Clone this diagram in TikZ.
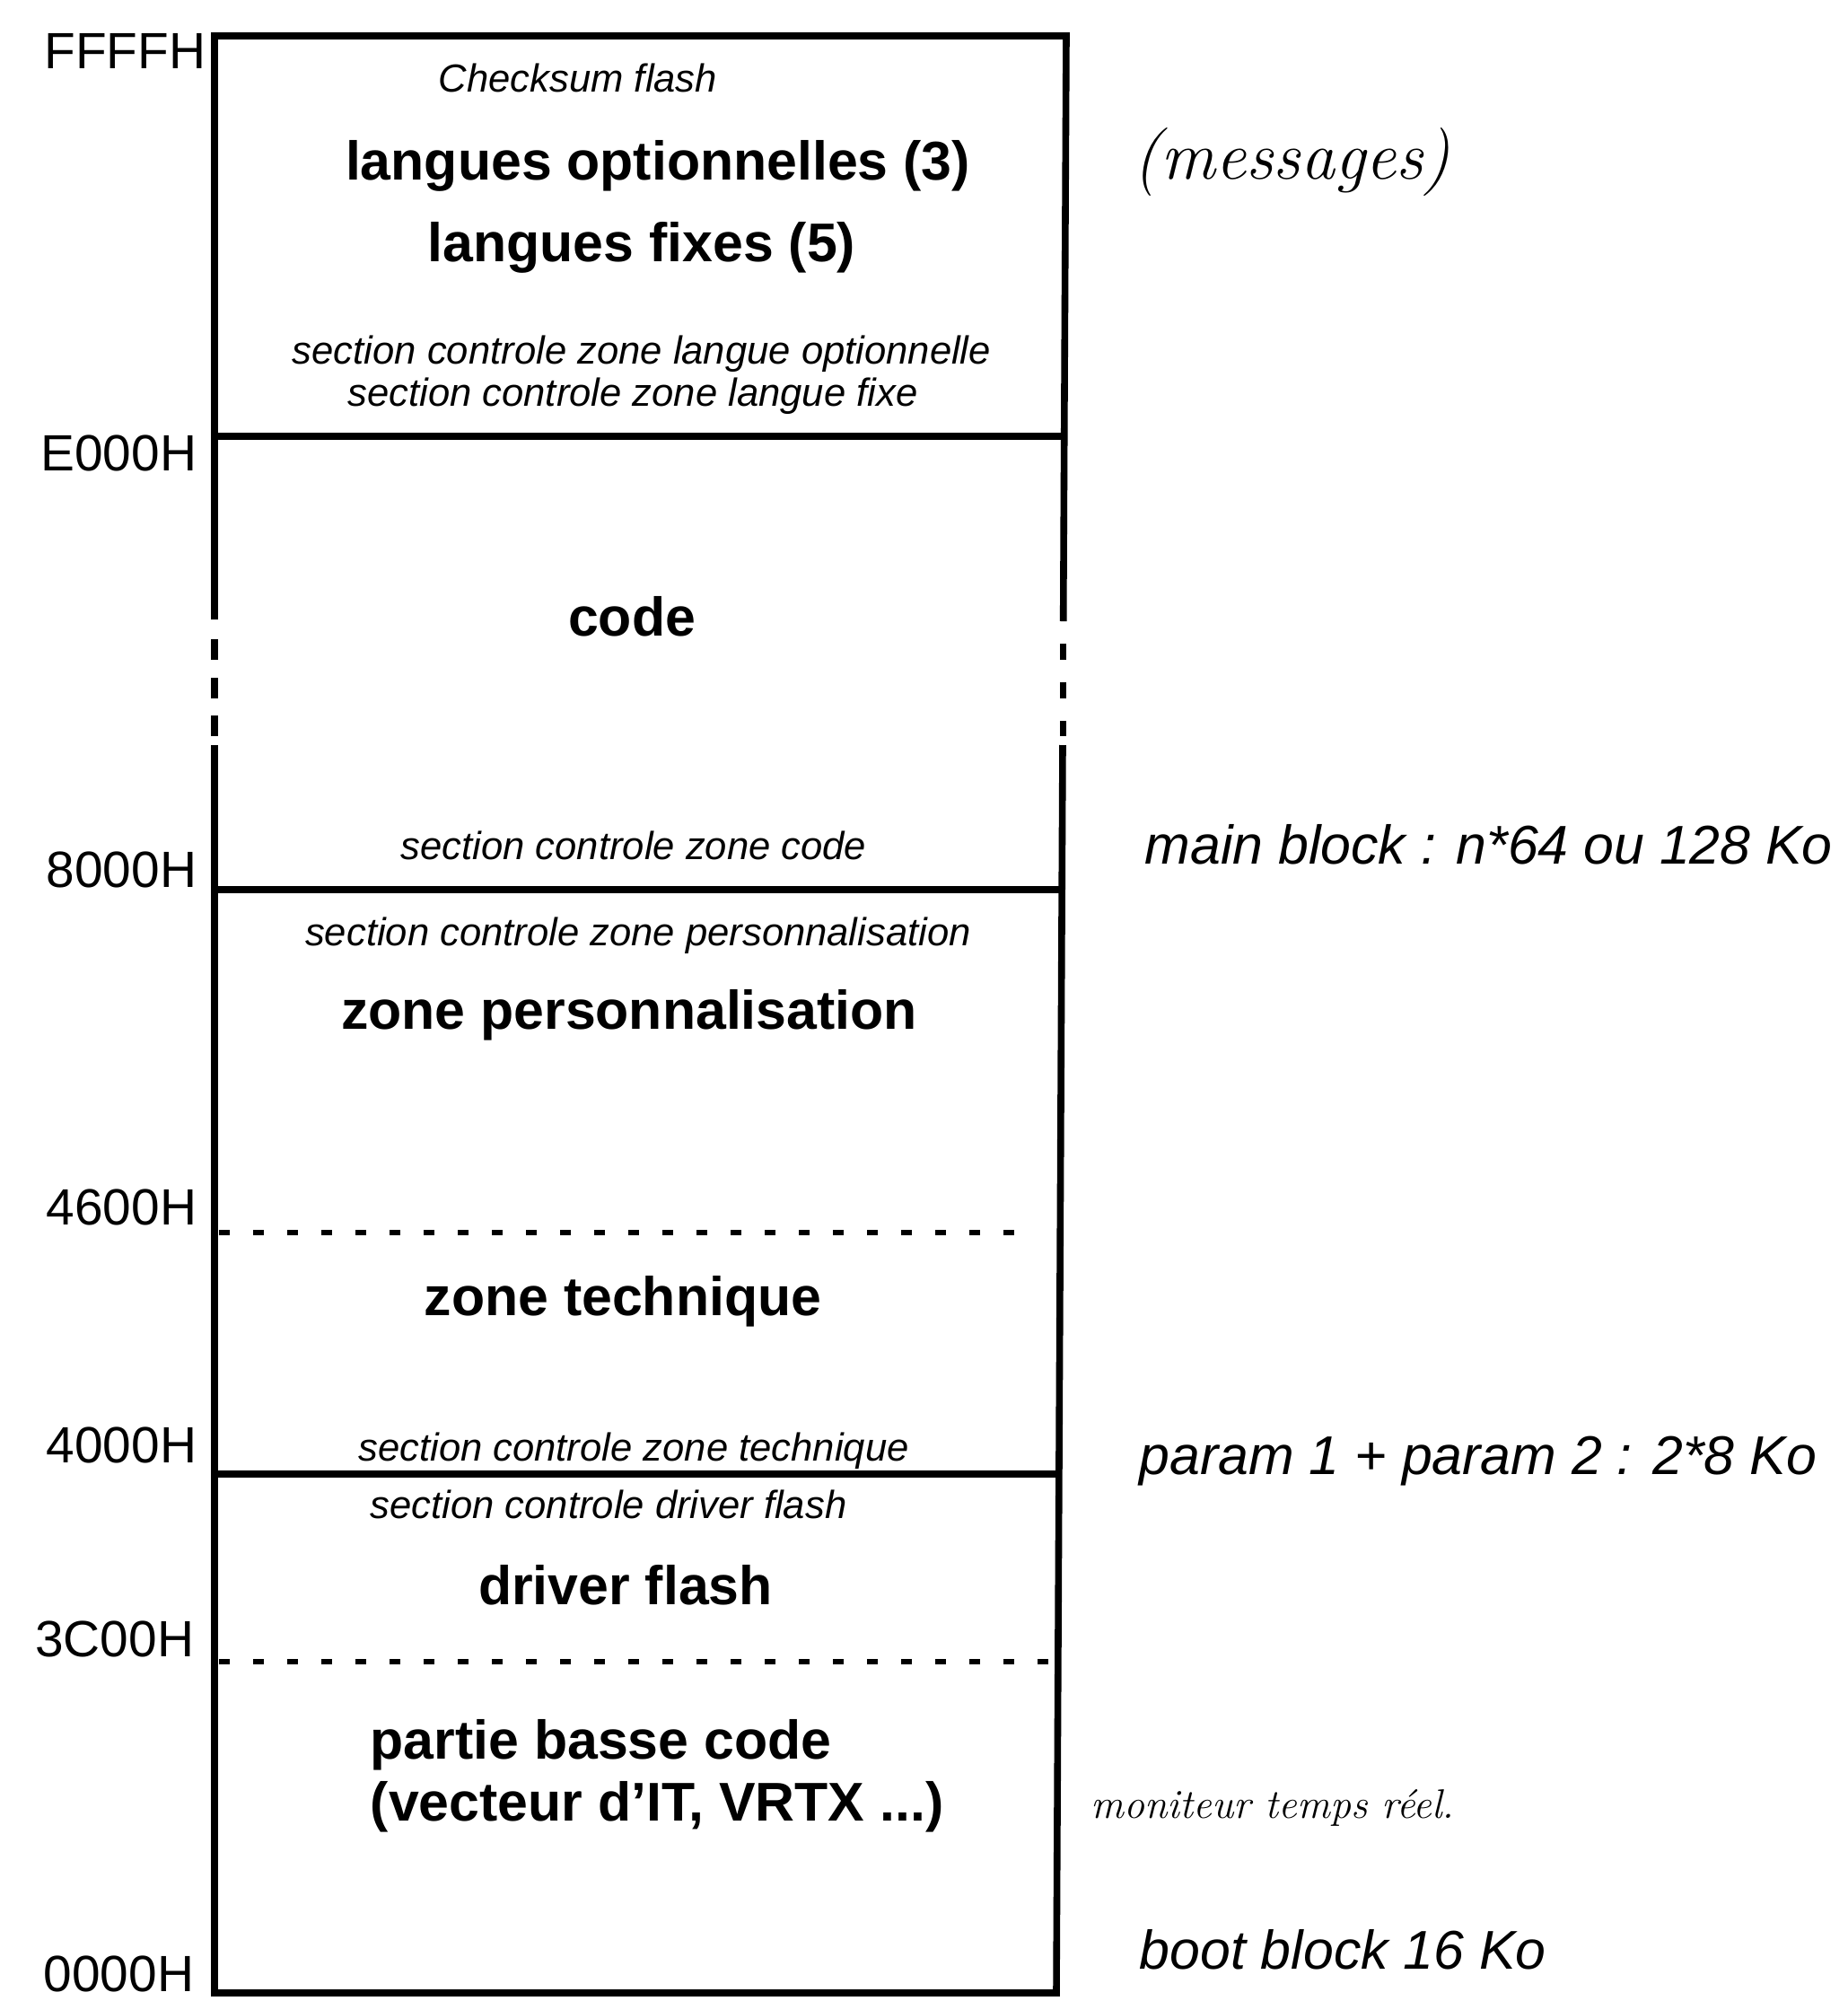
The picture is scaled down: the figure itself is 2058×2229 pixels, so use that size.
\documentclass[tikz,border=0pt]{standalone}
\usepackage{fontspec}
\newfontfamily\sans{Liberation Sans}
\begin{document}
\begin{tikzpicture}[x=0.25pt,y=-0.25pt,
  edge/.style={line width=1.9pt,line join=miter},
  sepline/.style={line width=1.8pt},
  splitline/.style={line width=1.6pt,dash pattern=on 3pt off 6.5pt},
  addr/.style={anchor=east,inner sep=0pt,font=\sans\fontsize{14.2}{16}\selectfont},
  zonelbl/.style={anchor=base,inner sep=0pt,font=\sans\bfseries\fontsize{15.2}{18}\selectfont},
  ctrllbl/.style={anchor=base,inner sep=0pt,font=\sans\itshape\fontsize{10.9}{13}\selectfont},
  sidelbl/.style={anchor=base west,inner sep=0pt,font=\sans\itshape\fontsize{15.2}{18}\selectfont},
  handlbl/.style={anchor=base west,inner sep=0pt,font=\itshape}]
\useasboundingbox (0,0) rectangle (2058,2229);

% outer frame, broken on both sides in the code area
\draw[edge] (239,690) -- (239,40) -- (1188,40) -- (1184.7,692);
\draw[edge] (239,830) -- (239,2220) -- (1177,2220) -- (1184,830);
\foreach \a/\b in {712/735,755/778,797/820}
  \draw[edge] (239,\a) -- (239,\b);
\foreach \a/\b in {717/735,760/778,803/820}
  \draw[edge] (1184.5,\a) -- (1184.5,\b);

% block boundaries
\draw[sepline] (239,486) -- (1186,486);
\draw[sepline] (239,991) -- (1183,991);
\draw[sepline] (239,1642) -- (1180,1642);
\draw[splitline] (244,1373) -- (1151,1373);
\draw[splitline] (244,1851) -- (1168,1851);

% addresses
\node[addr] (aFFFF) at (230,57)   {FFFFH};
\node[addr] (aE000) at (220,505)  {E000H};
\node[addr] (a8000) at (220,969)  {8000H};
\node[addr] (a4600) at (220,1345) {4600H};
\node[addr] (a4000) at (220,1610) {4000H};
\node[addr] (a3C00) at (217,1826) {3C00H};
\node[addr] (a0000) at (217,2199) {0000H};

% contents of the flash
\node[ctrllbl] (chk)    at (644,102)  {Checksum flash};
\node[zonelbl] (lopt)   at (733,200)  {langues optionnelles (3)};
\node[zonelbl] (lfix)   at (715,291)  {langues fixes (5)};
\node[ctrllbl] (sclopt) at (715,405)  {section controle zone langue optionnelle};
\node[ctrllbl] (sclfix) at (705,452)  {section controle zone langue fixe};
\node[zonelbl] (code)   at (704,708)  {code};
\node[ctrllbl] (sccode) at (706,957)  {section controle zone code};
\node[ctrllbl] (scpers) at (711,1053) {section controle zone personnalisation};
\node[zonelbl] (pers)   at (701,1146) {zone personnalisation};
\node[zonelbl] (tech)   at (694,1465) {zone technique};
\node[ctrllbl] (sctech) at (706,1627) {section controle zone technique};
\node[ctrllbl] (scdrv)  at (678,1691) {section controle driver flash};
\node[zonelbl] (drv)    at (697,1787) {driver flash};
\node[zonelbl,anchor=base west] (basse1) at (412,1959) {partie basse code};
\node[zonelbl,anchor=base west] (basse2) at (412,2028) {(vecteur d’IT, VRTX ...)};

% notes on the right
\node[handlbl,font=\itshape\fontsize{19}{22}\selectfont] (msg) at (1262,199) {(messages)};
\node[sidelbl] (mainblk) at (1275,962)  {main block : n*64 ou 128 Ko};
\node[sidelbl] (params)  at (1269,1642) {param 1 + param 2 : 2*8 Ko};
\node[handlbl,font=\itshape\fontsize{11.5}{14}\selectfont] (rtos) at (1215,2025) {moniteur temps réel.};
\node[sidelbl] (bootblk) at (1269,2193) {boot block 16 Ko};
\end{tikzpicture}
\end{document}
